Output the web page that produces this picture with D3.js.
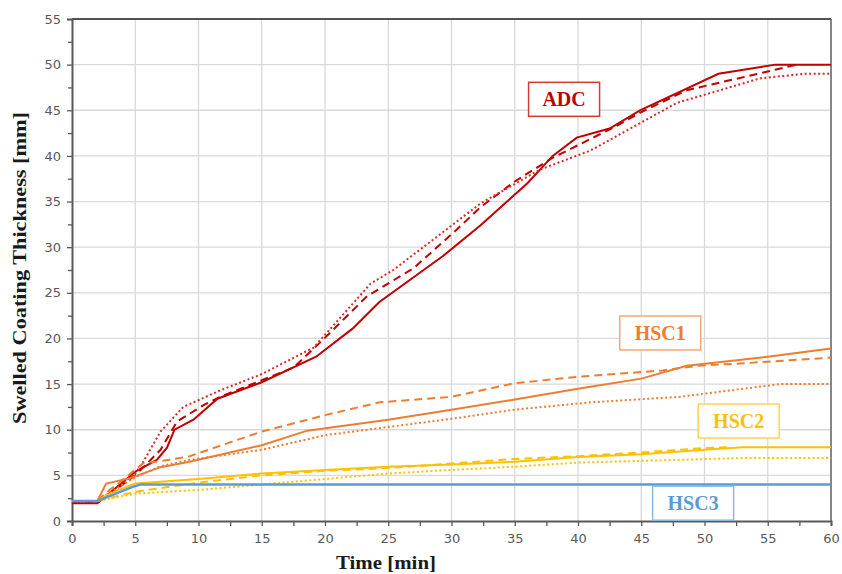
<!DOCTYPE html>
<html>
<head>
<meta charset="utf-8">
<script src="https://cdn.jsdelivr.net/npm/d3@7"></script>
<style>
  body { margin: 0; background: #fff; }
  svg { display: block; }
</style>
</head>
<body>
<div id="chart"></div>
<script>
// values, [time min, thickness mm]
var adcSolid = [[0,1.95],[2,1.95],[5,5.4],[6.7,6.7],[7.5,8],[8.1,10],[9.6,11.1],[11.5,13.4],[15,15.2],[19.3,18],[22.2,21.1],[24.3,24],[29.3,29],[32.3,32.4],[36,37],[38,40],[39.9,42],[42.5,43],[44.9,45],[51.1,49],[55.6,50],[60,50]];
var adcDash = [[0,2],[2,2],[5,5],[7,7.8],[8.3,10.9],[10.4,12.7],[11.7,13.6],[17.5,16.8],[19.8,19.8],[23.3,24.6],[27,27.7],[30.4,31.9],[32.3,34.4],[35,37.2],[38,39.8],[42.8,43.1],[45,44.8],[48.6,47.2],[53.3,48.7],[57.3,50]];
var adcDot = [[0,2.1],[2,2.1],[5,5.2],[5.6,6.4],[7,9.8],[8.8,12.5],[11.7,14.3],[15,16.1],[19.1,19],[23.6,26],[25.4,27.5],[32.3,34.8],[37,38.5],[41,40.6],[47.8,45.8],[54.4,48.5],[58,49],[60,49]];

var hsc1Solid = [[0,2.2],[2,2.2],[2.7,4.1],[4.6,4.7],[7,5.9],[9.3,6.5],[15,8.3],[18.6,9.9],[25,11.1],[30,12.2],[35,13.3],[40,14.5],[45,15.6],[48.6,17],[55,18],[60,18.9]];
var hsc1Dash = [[0,2.2],[2,2.2],[2.6,3],[4,4.5],[5.6,6.3],[7.7,6.7],[9.3,7.1],[15,9.8],[18.6,11.1],[20,11.6],[24.3,13],[30,13.6],[35,15.1],[40,15.8],[46.7,16.5],[49.4,17],[53.3,17.3],[60,17.9]];
var hsc1Dot = [[0,2.2],[2,2.2],[5,4.8],[7,6],[9.3,6.7],[15,7.8],[20,9.4],[25,10.3],[30,11.2],[35,12.2],[41,13],[48,13.6],[56,15],[60,15]];

var hsc2Solid = [[0,2.2],[2,2.2],[3,3],[5,4.1],[10,4.6],[15,5.2],[20,5.6],[25,5.95],[30,6.2],[35,6.5],[40,7],[45,7.3],[50,7.8],[53,8.07],[60,8.07]];
var hsc2Dash = [[0,2.2],[2,2.2],[5,3.2],[8,3.8],[10,4.2],[15,5],[20,5.5],[25,5.8],[30,6.3],[35,6.8],[40,7.1],[45,7.5],[50,8],[52,8.1]];
var hsc2Dot = [[0,2.2],[2,2.2],[5,3],[10,3.4],[15,4],[20,4.6],[25,5.2],[30,5.6],[35,5.95],[40,6.4],[48,6.7],[53,6.9],[60,6.9]];

var hsc3Solid = [[0,2.2],[2,2.2],[4.85,3.76],[5.4,4],[60,4]];

var xTicks = d3.range(0, 61, 5);
var yTicks = d3.range(0, 56, 5);

var series = [
  { pts: adcSolid, color: "#C00000", dash: null },
  { pts: adcDash, color: "#C00000", dash: "8,5" },
  { pts: adcDot, color: "#D42A2A", dash: "2,2.5" },
  { pts: hsc1Solid, color: "#ED7D31", dash: null },
  { pts: hsc1Dash, color: "#ED7D31", dash: "8,5" },
  { pts: hsc1Dot, color: "#ED7D31", dash: "2,2.5" },
  { pts: hsc2Solid, color: "#FFC000", dash: null },
  { pts: hsc2Dash, color: "#FFC000", dash: "8,5" },
  { pts: hsc2Dot, color: "#FFC000", dash: "2,2.5" },
  { pts: hsc3Solid, color: "#5B9BD5", dash: null }
];

var labels = [
  { text: "ADC", t: 38.9, v: 46.2, w: 71, color: "#C00000", box: "#D23A3A" },
  { text: "HSC1", t: 46.5, v: 20.6, w: 81, color: "#ED7D31", box: "#F3A878" },
  { text: "HSC2", t: 52.7, v: 10.95, w: 81, color: "#FFC000", box: "#FFD257" },
  { text: "HSC3", t: 49.1, v: 1.95, w: 81, color: "#5B9BD5", box: "#8BB9E3" }
];

var W = 842, H = 574;
var m = { top: 19, right: 11, bottom: 53, left: 72 };

var svg = d3.select("#chart").append("svg")
  .attr("width", W).attr("height", H);

var x = d3.scaleLinear().domain([0, 60]).range([m.left, W - m.right]);
var y = d3.scaleLinear().domain([0, 55]).range([H - m.bottom, m.top]);

// grid
svg.append("g").selectAll("line").data(xTicks.slice(1)).join("line")
  .attr("x1", d => x(d)).attr("x2", d => x(d))
  .attr("y1", y(0)).attr("y2", y(55))
  .attr("stroke", "#d9d9d9").attr("stroke-width", 1.3);
svg.append("g").selectAll("line").data(yTicks.slice(1)).join("line")
  .attr("x1", x(0)).attr("x2", x(60))
  .attr("y1", d => y(d)).attr("y2", d => y(d))
  .attr("stroke", "#d9d9d9").attr("stroke-width", 1.3);

// frame top/right
svg.append("line").attr("x1", x(0)).attr("x2", x(60)).attr("y1", y(55)).attr("y2", y(55))
  .attr("stroke", "#222").attr("stroke-width", 1.5);
svg.append("line").attr("x1", x(60)).attr("x2", x(60)).attr("y1", y(55)).attr("y2", y(0))
  .attr("stroke", "#666").attr("stroke-width", 1.5);

// axes
var tickFont = "'DejaVu Sans', Verdana, sans-serif";
svg.append("g").attr("transform", "translate(0," + y(0) + ")")
  .call(d3.axisBottom(x).tickValues(xTicks).tickSize(5).tickPadding(8));
svg.append("g").attr("transform", "translate(0," + y(0) + ")")
  .call(d3.axisBottom(x).tickValues(d3.range(2.5, 60, 5)).tickSize(5).tickFormat(""))
  .call(g => g.select(".domain").remove());
svg.append("g").attr("transform", "translate(" + x(0) + ",0)")
  .call(d3.axisLeft(y).tickValues(yTicks).tickSize(5).tickPadding(6));
svg.append("g").attr("transform", "translate(" + x(0) + ",0)")
  .call(d3.axisLeft(y).tickValues(d3.range(2.5, 55, 5)).tickSize(4).tickFormat(""))
  .call(g => g.select(".domain").remove());

svg.selectAll(".tick line").attr("stroke", "#595959").attr("stroke-width", 1.3);
svg.selectAll(".domain").attr("stroke", "#595959").attr("stroke-width", 2);
svg.selectAll(".tick text").attr("fill", "#595959")
  .style("font-family", tickFont).style("font-size", "13px");

// lines
var line = d3.line().x(d => x(d[0])).y(d => y(d[1]));
svg.append("g").selectAll("path").data(series).join("path")
  .attr("d", d => line(d.pts))
  .attr("fill", "none")
  .attr("stroke", d => d.color)
  .attr("stroke-width", d => d.pts === hsc3Solid ? 2.5 : 2)
  .attr("stroke-dasharray", d => d.dash);

// series labels
var serif = "'Liberation Serif', 'Times New Roman', serif";
var lg = svg.append("g").selectAll("g").data(labels).join("g")
  .attr("transform", d => "translate(" + x(d.t) + "," + y(d.v) + ")");
lg.append("rect")
  .attr("x", d => -d.w / 2).attr("y", -17).attr("width", d => d.w).attr("height", 34)
  .attr("fill", "#fff").attr("stroke", d => d.box).attr("stroke-width", 1.5);
lg.append("text")
  .attr("text-anchor", "middle").attr("dy", "0.35em")
  .attr("fill", d => d.color)
  .style("font-family", serif).style("font-weight", "bold").style("font-size", "20px")
  .text(d => d.text);

// axis titles
svg.append("text")
  .attr("x", 386).attr("y", 569)
  .attr("text-anchor", "middle")
  .attr("textLength", 100).attr("lengthAdjust", "spacingAndGlyphs")
  .style("font-family", serif).style("font-weight", "bold").style("font-size", "19px")
  .attr("fill", "#1a1a1a")
  .text("Time [min]");
svg.append("text")
  .attr("transform", "translate(26," + 268 + ") rotate(-90)")
  .attr("text-anchor", "middle")
  .attr("textLength", 312).attr("lengthAdjust", "spacingAndGlyphs")
  .style("font-family", serif).style("font-weight", "bold").style("font-size", "19px")
  .attr("fill", "#1a1a1a")
  .text("Swelled Coating Thickness [mm]");
</script>
</body>
</html>
